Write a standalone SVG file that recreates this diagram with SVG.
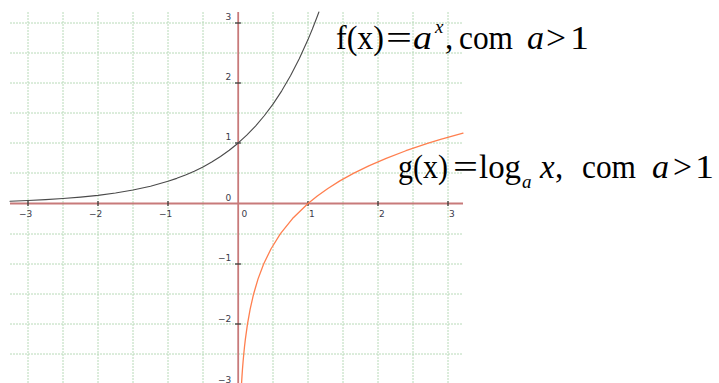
<svg xmlns="http://www.w3.org/2000/svg" width="719" height="383" viewBox="0 0 719 383">
<style>
.grid line{stroke:#b8dab8;stroke-width:1;stroke-dasharray:2 1;fill:none}
.axis{stroke:#c87a7a;stroke-width:1.8}
.tick{stroke:#333;stroke-width:1.2}
.num{font-family:"DejaVu Sans",Verdana,sans-serif;font-size:9px;fill:#3a3a4a}
.eq{font-family:"Liberation Serif","Times New Roman",serif;font-size:33px;fill:#000}
.it{font-style:italic}
.sm{font-size:19px}
.curve{fill:none;stroke-linejoin:round;stroke-linecap:round}
</style>
<rect width="719" height="383" fill="#fff"/>
<g id="grid" class="grid">
<line x1="28" y1="12" x2="28" y2="383"/>
<line x1="63" y1="12" x2="63" y2="383"/>
<line x1="98" y1="12" x2="98" y2="383"/>
<line x1="133" y1="12" x2="133" y2="383"/>
<line x1="168" y1="12" x2="168" y2="383"/>
<line x1="203" y1="12" x2="203" y2="383"/>
<line x1="273" y1="12" x2="273" y2="383"/>
<line x1="308" y1="12" x2="308" y2="383"/>
<line x1="343" y1="12" x2="343" y2="383"/>
<line x1="378" y1="12" x2="378" y2="383"/>
<line x1="413" y1="12" x2="413" y2="383"/>
<line x1="448" y1="12" x2="448" y2="383"/>
<line x1="10" y1="23" x2="463" y2="23"/>
<line x1="10" y1="53" x2="463" y2="53"/>
<line x1="10" y1="83" x2="463" y2="83"/>
<line x1="10" y1="113" x2="463" y2="113"/>
<line x1="10" y1="143" x2="463" y2="143"/>
<line x1="10" y1="173" x2="463" y2="173"/>
<line x1="10" y1="234" x2="463" y2="234"/>
<line x1="10" y1="264" x2="463" y2="264"/>
<line x1="10" y1="294" x2="463" y2="294"/>
<line x1="10" y1="324" x2="463" y2="324"/>
<line x1="10" y1="354" x2="463" y2="354"/>
</g>
<g id="axes">
<line class="axis" x1="10" y1="203.5" x2="463" y2="203.5"/>
<line class="axis" x1="238.2" y1="12" x2="238.2" y2="383"/>
</g>
<g id="ticks" class="tick">
<line x1="28" y1="201" x2="28" y2="206"/>
<line x1="98" y1="201" x2="98" y2="206"/>
<line x1="168" y1="201" x2="168" y2="206"/>
<line x1="308" y1="201" x2="308" y2="206"/>
<line x1="378" y1="201" x2="378" y2="206"/>
<line x1="448" y1="201" x2="448" y2="206"/>
<line x1="235" y1="23" x2="241" y2="23"/>
<line x1="235" y1="83" x2="241" y2="83"/>
<line x1="235" y1="143" x2="241" y2="143"/>
<line x1="235" y1="264" x2="241" y2="264"/>
<line x1="235" y1="324" x2="241" y2="324"/>
</g>
<g id="x-labels" class="num">
<text x="19" y="216.7">−3</text>
<text x="89" y="216.7">−2</text>
<text x="159" y="216.7">−1</text>
<text x="241.4" y="216.5">0</text>
<text x="309" y="216.5">1</text>
<text x="379" y="216.5">2</text>
<text x="449" y="216.5">3</text>
</g>
<g id="y-labels" class="num" text-anchor="end">
<text x="231.3" y="19.6">3</text>
<text x="231.3" y="80">2</text>
<text x="231.3" y="140.4">1</text>
<text x="231.3" y="200.7">0</text>
<text x="231.3" y="261">−1</text>
<text x="231.3" y="322">−2</text>
<text x="231.3" y="382.5">−3</text>
</g>
<g id="connectors">
<path id="curve-f" class="curve" stroke="#4a4a4a" stroke-width="1.1" d="M10,201.18 L28,200.5 L45.5,199.65 L63,198.55 L80.5,197.14 L98,195.34 L115.5,193.02 L133,190.05 L150.5,186.22 L168,181.32 L176.75,178.36 L185.5,175.02 L194.25,171.22 L203,166.93 L211.75,162.06 L220.5,156.54 L229.25,150.29 L238,143.2 L246.75,135.17 L255.5,126.07 L264.25,115.76 L273,104.08 L281.75,90.84 L290.5,75.84 L299.25,58.85 L308,39.59 L312.38,29.02 L316.75,17.76 L318.9,11.98"/>
<path id="curve-g" class="curve" stroke="#ff7f4f" stroke-width="1.3" d="M241.57,383 L241.95,376.86 L242.47,369.33 L243.07,361.79 L243.75,354.25 L244.5,346.7 L245.38,339.18 L247.47,324.1 L250.16,309.03 L253.62,293.95 L258.06,278.88 L263.75,263.8 L271.07,248.73 L280.46,233.65 L292.52,218.58 L308,203.5 L317.32,195.96 L327.88,188.43 L339.85,180.89 L353.41,173.35 L368.78,165.81 L386.19,158.28 L405.92,150.74 L428.28,143.2 L440.55,139.43 L463,133.09"/>
</g>
<g id="label-f" class="eq">
<text x="336" y="49" textLength="48" lengthAdjust="spacingAndGlyphs">f(x)</text>
<text x="386" y="49" textLength="26" lengthAdjust="spacingAndGlyphs">=</text>
<text class="it" x="413" y="49" textLength="19" lengthAdjust="spacingAndGlyphs">a</text>
<text class="it sm" x="435" y="33">x</text>
<text x="445" y="49">,</text>
<text x="459" y="49" textLength="54" lengthAdjust="spacingAndGlyphs">com</text>
<text class="it" x="527" y="49" textLength="17" lengthAdjust="spacingAndGlyphs">a</text>
<text x="546" y="49" textLength="20" lengthAdjust="spacingAndGlyphs">&gt;</text>
<text x="570" y="49" textLength="19" lengthAdjust="spacingAndGlyphs">1</text>
</g>
<g id="label-g" class="eq">
<text x="398" y="178" textLength="50" lengthAdjust="spacingAndGlyphs">g(x)</text>
<text x="453" y="178" textLength="25" lengthAdjust="spacingAndGlyphs">=</text>
<text x="479" y="178" textLength="42" lengthAdjust="spacingAndGlyphs">log</text>
<text class="it sm" x="522" y="188">a</text>
<text class="it" x="540" y="178">x</text>
<text x="555" y="178">,</text>
<text x="582" y="178" textLength="54" lengthAdjust="spacingAndGlyphs">com</text>
<text class="it" x="652" y="178" textLength="17" lengthAdjust="spacingAndGlyphs">a</text>
<text x="673" y="178" textLength="19" lengthAdjust="spacingAndGlyphs">&gt;</text>
<text x="695" y="178" textLength="19" lengthAdjust="spacingAndGlyphs">1</text>
</g>
</svg>
